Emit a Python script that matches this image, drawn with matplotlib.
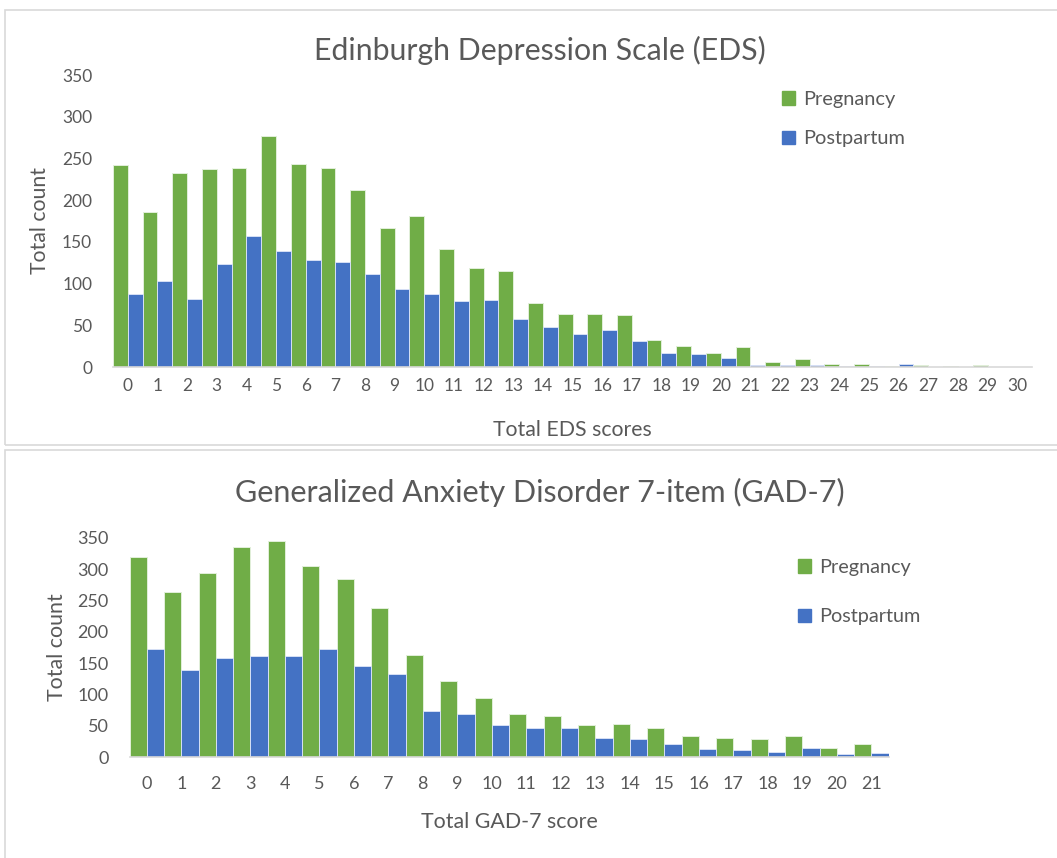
import matplotlib
matplotlib.use("Agg")
import matplotlib.pyplot as plt
from matplotlib.patches import Rectangle, Patch

W, H = 1057, 858
plt.rcParams['font.family'] = ['Lato', 'DejaVu Sans']

eds_scores = list(range(31))
eds_pregnancy = [242, 186, 232, 237, 239, 277, 243, 238, 212, 167, 181, 141, 119, 115, 77, 64,
                 63, 62, 32, 25, 17, 24, 6, 9, 3, 3, 1, 2, 1, 2, 0]
eds_postpartum = [88, 103, 82, 124, 157, 139, 128, 126, 112, 94, 88, 79, 80, 58, 48, 40,
                  44, 31, 17, 15, 11, 2, 2, 2, 1, 1, 3, 0, 0, 0, 0]

gad_scores = list(range(22))
gad_pregnancy = [319, 263, 294, 336, 345, 306, 285, 238, 163, 122, 95, 69, 66, 51, 52, 46,
                 34, 31, 29, 34, 15, 21]
gad_postpartum = [172, 139, 159, 161, 162, 173, 145, 132, 73, 68, 51, 47, 47, 30, 28, 21,
                  13, 11, 8, 15, 5, 6]

yticks = [0, 50, 100, 150, 200, 250, 300, 350]

GREEN = '#70AD47'
BLUE = '#4472C4'
TXT = '#595959'
LINE = '#D9D9D9'

fig = plt.figure(figsize=(W / 100, H / 100), dpi=100)


def fx(x):
    return x / W


def fy(y):
    return 1 - y / H


def box(x0, y0, x1, y1):
    fig.patches.append(Rectangle((fx(x0), fy(y1)), fx(x1) - fx(x0), fy(y0) - fy(y1),
                                 transform=fig.transFigure, fill=False,
                                 edgecolor=LINE, linewidth=1.2))


box(5, 10, 1062, 445)
box(5, 450, 1062, 866)


def make_chart(left, right, top, bottom, cats, preg, post, title, xlabel,
               title_y, xlabel_y, ylabel_x, tick_fs, title_fs, lab_fs, leg_fs, leg_xy,
               leg_spacing, xpad):
    ax = fig.add_axes([fx(left), fy(bottom), fx(right) - fx(left), fy(top) - fy(bottom)])
    xs = list(cats)
    ax.bar([x - 0.25 for x in xs], preg, width=0.5, color=GREEN, edgecolor='#E2EFDA',
           linewidth=0.7, label='Pregnancy')
    ax.bar([x + 0.25 for x in xs], post, width=0.5, color=BLUE, edgecolor='#D6E0F5',
           linewidth=0.7, label='Postpartum')
    ax.set_xlim(-0.5, len(xs) - 0.5)
    ax.set_ylim(0, 350)
    ax.set_yticks(yticks)
    ax.set_xticks(xs)
    ax.set_xticklabels([str(c) for c in cats])
    for s in ['top', 'right', 'left']:
        ax.spines[s].set_visible(False)
    ax.spines['bottom'].set_color(LINE)
    ax.spines['bottom'].set_linewidth(1.2)
    ax.tick_params(axis='both', length=0, colors=TXT, labelsize=tick_fs)
    ax.tick_params(axis='y', pad=15)
    ax.tick_params(axis='x', pad=xpad)
    ax.set_facecolor('none')
    cx = (left + right) / 2
    fig.text(fx(540), fy(title_y), title, ha='center', va='center', fontsize=title_fs, color=TXT)
    fig.text(fx(cx), fy(xlabel_y), xlabel, ha='center', va='center', fontsize=lab_fs, color=TXT)
    fig.text(fx(ylabel_x), fy((top + bottom) / 2), 'Total count', ha='center', va='center',
             rotation=90, fontsize=lab_fs, color=TXT)
    handles = [Patch(color=GREEN, label='Pregnancy'), Patch(color=BLUE, label='Postpartum')]
    leg = fig.legend(handles=handles, loc='upper left', bbox_to_anchor=(fx(leg_xy[0]), fy(leg_xy[1])),
                     frameon=False, fontsize=leg_fs, handlelength=0.65, handleheight=0.65,
                     handletextpad=0.4, labelspacing=leg_spacing, borderpad=0, borderaxespad=0)
    for t in leg.get_texts():
        t.set_color(TXT)
    return ax


make_chart(113, 1032, 75, 367, eds_scores, eds_pregnancy, eds_postpartum,
           'Edinburgh Depression Scale (EDS)', 'Total EDS scores',
           title_y=50, xlabel_y=430, ylabel_x=40, tick_fs=12.5, title_fs=21.8, lab_fs=15.3,
           leg_fs=14.4, leg_xy=(782, 91), leg_spacing=1.12, xpad=8)

make_chart(129.5, 888.5, 538, 757, gad_scores, gad_pregnancy, gad_postpartum,
           'Generalized Anxiety Disorder 7-item (GAD-7)', 'Total GAD-7 score',
           title_y=492, xlabel_y=822, ylabel_x=57, tick_fs=13, title_fs=22, lab_fs=15.4,
           leg_fs=14.3, leg_xy=(798, 559), leg_spacing=1.62, xpad=14)

fig.savefig('out.png', dpi=100, facecolor='white')
